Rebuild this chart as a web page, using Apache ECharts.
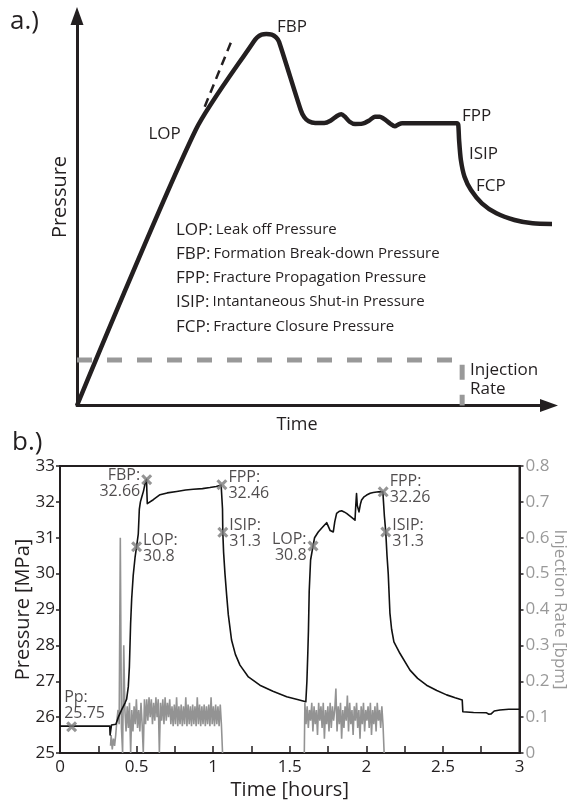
<!DOCTYPE html>
<html>
<head>
<meta charset="utf-8">
<script src="https://cdn.jsdelivr.net/npm/echarts@6/dist/echarts.min.js"></script>
<style>html,body{margin:0;padding:0;background:#fff}#c{width:568px;height:803px}</style>
</head>
<body>
<div id="c"></div>
<script>
// ---------- Panel a (schematic, arbitrary units 0-100) ----------
const schemX = [0,25.14,37.42,38.18,39.11,40.11,41.26,42.18,42.80,47.40,48.16,49.09,50.47,52.39,53.69,55.08,56.0,56.76,57.76,58.92,60.45,61.83,63.14,64.13,65.21,66.44,67.35,68.13,68.90,80.55,80.78,80.95,81.33,82.10,83.47,85.78,88.86,92.69,96.53,101.5];
const schemY = [0,70.73,93.41,94.52,95.21,95.38,95.21,94.52,93.41,75.87,73.99,72.96,72.53,72.53,73.12,74.33,74.76,74.15,72.86,72.27,72.36,73.12,74.15,74.15,73.47,72.27,71.68,72.19,72.45,72.45,72.02,68.16,63.03,58.74,55.33,51.91,49.34,47.63,46.78,46.6];
const tangentX = [27.06, 32.82];
const tangentY = [76.72, 93.84];
const rateSchemX = [0, 81.6, 81.6];
const rateSchemY = [11.68, 11.68, 0];
const legendKeys = ['LOP:','FBP:','FPP:','ISIP:','FCP:'];
const legendDescs = ['Leak off Pressure','Formation Break-down Pressure','Fracture Propagation Pressure','Intantaneous Shut-in Pressure','Fracture Closure Pressure'];

// ---------- Panel b ----------
const pTime = [0,0.325,0.327,0.333,0.336,0.365,0.374,0.381,0.402,0.425,0.435,0.446,0.453,0.461,0.468,0.478,0.490,0.500,0.511,0.518,0.525,0.533,0.545,0.555,0.565,0.567,0.570,0.580,0.609,0.653,0.700,0.762,0.820,0.870,0.930,0.979,1.020,1.052,1.058,1.061,1.063,1.068,1.077,1.088,1.099,1.120,1.145,1.175,1.230,1.305,1.390,1.480,1.550,1.605,1.608,1.612,1.618,1.622,1.627,1.636,1.652,1.662,1.686,1.715,1.741,1.752,1.764,1.784,1.794,1.806,1.825,1.839,1.855,1.871,1.900,1.926,1.931,1.936,1.941,1.952,1.962,1.969,1.985,2.002,2.025,2.045,2.080,2.108,2.112,2.118,2.127,2.135,2.143,2.154,2.165,2.180,2.219,2.285,2.335,2.393,2.460,2.524,2.580,2.626,2.630,2.700,2.785,2.800,2.815,2.835,2.872,2.930,3.000];
const pMPa = [25.75,25.75,25.5,25.5,25.78,25.8,25.82,26.0,26.2,26.4,26.5,26.85,27.4,28.6,29.3,29.95,30.45,30.75,31.1,31.8,32.0,32.12,32.3,32.5,32.63,32.3,31.95,31.98,32.06,32.2,32.25,32.29,32.33,32.35,32.37,32.4,32.43,32.47,32.47,31.8,31.15,30.6,30.0,29.4,28.85,28.15,27.75,27.45,27.12,26.89,26.72,26.57,26.49,26.43,26.43,27.0,27.8,28.4,29.5,30.38,30.77,31.0,31.16,31.3,31.42,31.38,31.2,31.16,31.45,31.68,31.74,31.75,31.72,31.68,31.58,31.49,31.9,32.23,31.9,31.72,31.95,32.05,32.14,32.19,32.24,32.26,32.28,32.28,32.0,31.6,31.15,30.5,30.0,28.9,28.45,28.1,27.78,27.31,27.08,26.89,26.74,26.62,26.54,26.48,26.15,26.13,26.12,26.08,26.09,26.17,26.2,26.22,26.22];

// injection rate, logged samples (bpm)
const rate1Start = 0.33, rate2Start = 1.595, rateStep = 0.0075;
const rate1 = [0.02,0.05,0.01,0.04,0.02,0.05,0.09,0.12,0.08,0.60,0.07,0.0,0.30,
0.12,0.06,0.13,0.07,0.14,0.0,0.12,0.06,0.13,0.08,0.15,0.07,0.12,0.06,0.14,0.08,
0.0,0.15,0.08,
0.15,0.09,0.155,0.10,0.15,0.08,0.14,0.09,0.155,0.10,0.15,0.0,0.14,0.09,0.15,0.08,0.155,0.09,0.14,0.10,0.15,
0.08,0.13,0.075,0.135,0.08,0.155,0.075,0.13,0.08,0.135,
0.075,0.13,0.08,0.155,0.075,0.135,0.08,0.13,0.075,0.135,
0.08,0.13,0.075,0.155,0.08,0.135,0.075,0.13,0.08,0.135,
0.075,0.13,0.08,0.135,0.075,0.155,0.08,0.13,0.075,0.135,
0.08,0.13,0.075,0.135,0.08,0.0];
const rate2 = [0.0,0.14,0.08,0.13,0.07,0.12,0.09,0.14,0.06,0.13,
0.08,0.12,0.05,0.14,0.09,0.13,0.07,0.14,0.04,0.12,
0.08,0.13,0.06,0.14,0.07,0.13,0.09,0.12,0.18,0.06,
0.13,0.08,0.14,0.04,0.12,0.07,0.13,0.09,0.16,0.06,
0.14,0.08,0.12,0.05,0.13,0.09,0.14,0.07,0.12,0.04,
0.13,0.08,0.14,0.06,0.12,0.09,0.13,0.07,0.14,0.05,
0.12,0.08,0.13,0.06,0.14,0.09,0.12,0.07,0.13,0.08,0.0];

const markerNames = ['Pp','LOP','FBP','FPP','ISIP','LOP','FPP','ISIP'];
const markerText  = ['25.75','30.8','32.66','32.46','31.3','30.8','32.26','31.3'];
const markerT = [0.076, 0.500, 0.566, 1.057, 1.063, 1.652, 2.110, 2.127];
const markerP = [25.73, 30.75, 32.62, 32.48, 31.15, 30.77, 32.28, 31.16];

const xTicksB = {min:0, max:3, interval:0.25};
const yTicksB = {min:25, max:33, interval:1};
const rTicksB = {min:0, max:0.8, interval:0.1};

// ---------- build ----------
const FONT = '"Open Sans", "Noto Sans", sans-serif';
const INK = '#231f20';
const GRAY = '#999999';

const zip = (a, b) => a.map((v, i) => [v, b[i]]);
const rateSeries = (start, vals) => vals.map((v, i) => [start + i * rateStep, v]);

const labelStyle = [
  {position:'right', offset:[-14,-21]},
  {position:'right', offset:[0,2]},
  {position:'left', offset:[0,4]},
  {position:'right', offset:[0,1]},
  {position:'right', offset:[0,1]},
  {position:'left', offset:[0,1]},
  {position:'right', offset:[0,-2]},
  {position:'right', offset:[0,1]}
];

const xShape = 'path://M0,2 L2,0 L5,3 L8,0 L10,2 L7,5 L10,8 L8,10 L5,7 L2,10 L0,8 L3,5 Z';

const markerData = markerT.map((t, i) => ({
  value: [t, markerP[i]],
  label: Object.assign({}, labelStyle[i])
}));

const graphics = [
  {type:'text', x:10, y:22, style:{text:'a.)', font:'26px ' + FONT, fill:INK, verticalAlign:'middle'}},
  {type:'text', x:12, y:443, style:{text:'b.)', font:'26px ' + FONT, fill:INK, verticalAlign:'middle'}},
  {type:'text', x:60, y:197, rotation:Math.PI/2, style:{text:'Pressure', font:'20px ' + FONT, fill:INK, align:'center', verticalAlign:'middle'}},
  {type:'text', x:297, y:425, style:{text:'Time', font:'18px ' + FONT, fill:INK, align:'center', verticalAlign:'middle'}},
  {type:'text', x:148.5, y:134, style:{text:'LOP', font:'17px ' + FONT, fill:INK, verticalAlign:'middle'}},
  {type:'text', x:277, y:27.5, style:{text:'FBP', font:'17px ' + FONT, fill:INK, verticalAlign:'middle'}},
  {type:'text', x:462, y:116, style:{text:'FPP', font:'17px ' + FONT, fill:INK, verticalAlign:'middle'}},
  {type:'text', x:469, y:154, style:{text:'ISIP', font:'17px ' + FONT, fill:INK, verticalAlign:'middle'}},
  {type:'text', x:476, y:186, style:{text:'FCP', font:'17px ' + FONT, fill:INK, verticalAlign:'middle'}},
  {type:'text', x:470, y:370, style:{text:'Injection', font:'17px ' + FONT, fill:INK, verticalAlign:'middle'}},
  {type:'text', x:470, y:389, style:{text:'Rate', font:'17px ' + FONT, fill:INK, verticalAlign:'middle'}}
];
const legendY = [230, 254, 278, 302, 327];
legendKeys.forEach((k, i) => {
  graphics.push({type:'text', x:176, y:legendY[i], style:{
    text:'{k|' + k + '}{d|' + legendDescs[i] + '}',
    verticalAlign:'middle',
    rich:{k:{fontSize:17, fontFamily:FONT, fill:INK, color:INK, padding:[0,3,0,0]}, d:{fontSize:15, fontFamily:FONT, fill:INK, color:INK}}
  }});
});

const chart = echarts.init(document.getElementById('c'), null, {renderer:'canvas'});
chart.setOption({
  animation:false,
  backgroundColor:'#fff',
  textStyle:{fontFamily:FONT, color:INK},
  grid:[
    {left:77, top:16, width:472, height:389.5, outerBoundsMode:'none', containLabel:false},
    {left:60, top:466, width:459.5, height:287, outerBoundsMode:'none', containLabel:false,
     show:true, borderColor:INK, borderWidth:2, backgroundColor:'transparent'}
  ],
  xAxis:[
    {gridIndex:0, type:'value', min:0, max:100, splitLine:{show:false}, axisTick:{show:false}, axisLabel:{show:false},
     axisLine:{show:true, onZero:false, symbol:['none','triangle'], symbolSize:[13,18], lineStyle:{color:INK, width:3}}},
    {gridIndex:1, type:'value', min:xTicksB.min, max:xTicksB.max, interval:xTicksB.interval, splitLine:{show:false},
     axisLine:{show:true, onZero:false, lineStyle:{color:INK, width:2}},
     axisTick:{show:true, inside:true, length:7, lineStyle:{color:INK, width:1.5}},
     axisLabel:{fontSize:17, color:INK, margin:6, fontFamily:FONT,
       formatter:v => Math.abs(v*2 - Math.round(v*2)) < 1e-6 ? String(+v.toFixed(2)) : ''},
     name:'Time [hours]', nameLocation:'middle', nameGap:27, nameTextStyle:{fontSize:20, color:INK, fontFamily:FONT}}
  ],
  yAxis:[
    {gridIndex:0, type:'value', min:0, max:100, splitLine:{show:false}, axisTick:{show:false}, axisLabel:{show:false},
     axisLine:{show:true, onZero:false, symbol:['none','triangle'], symbolSize:[13,18], lineStyle:{color:INK, width:3}}},
    {gridIndex:1, type:'value', min:yTicksB.min, max:yTicksB.max, interval:yTicksB.interval, position:'left', splitLine:{show:false},
     axisLine:{show:true, onZero:false, lineStyle:{color:INK, width:2}},
     axisTick:{show:true, inside:false, length:4, lineStyle:{color:INK, width:1.5}},
     axisLabel:{fontSize:17, color:INK, margin:5, fontFamily:FONT},
     name:'Pressure [MPa]', nameLocation:'middle', nameGap:27, nameMoveOverlap:false, nameRotate:90, nameTextStyle:{fontSize:20, color:INK, fontFamily:FONT}},
    {gridIndex:1, type:'value', min:rTicksB.min, max:rTicksB.max, interval:rTicksB.interval, position:'right', splitLine:{show:false},
     axisLine:{show:true, onZero:false, lineStyle:{color:INK, width:2}},
     axisTick:{show:true, inside:false, length:4, lineStyle:{color:INK, width:1.5}},
     axisLabel:{fontSize:17, color:GRAY, margin:6, fontFamily:FONT},
     name:'Injection Rate [bpm]', nameLocation:'middle', nameGap:32, nameMoveOverlap:false, nameRotate:-90, nameTextStyle:{fontSize:17, color:GRAY, fontFamily:FONT}}
  ],
  series:[
    {type:'line', xAxisIndex:0, yAxisIndex:0, data:zip(rateSchemX, rateSchemY), symbol:'none', clip:false,
     lineStyle:{color:GRAY, width:5, type:[15,15], cap:'butt'}},
    {type:'line', xAxisIndex:0, yAxisIndex:0, data:zip(tangentX, tangentY), symbol:'none', clip:false,
     lineStyle:{color:INK, width:2.5, type:[9,6]}},
    {type:'line', xAxisIndex:0, yAxisIndex:0, data:zip(schemX, schemY), symbol:'none', clip:false, smooth:0.25,
     lineStyle:{color:INK, width:4.5, join:'round', cap:'butt'}},
    {type:'line', xAxisIndex:1, yAxisIndex:2, data:rateSeries(rate1Start, rate1), symbol:'none', step:'middle',
     lineStyle:{color:'#939393', width:1.6}},
    {type:'line', xAxisIndex:1, yAxisIndex:2, data:rateSeries(rate2Start, rate2), symbol:'none', step:'middle',
     lineStyle:{color:'#939393', width:1.6}},
    {type:'line', xAxisIndex:1, yAxisIndex:1, data:zip(pTime, pMPa), symbol:'none',
     lineStyle:{color:'#111', width:1.6, join:'round'}},
    {type:'scatter', xAxisIndex:1, yAxisIndex:1, data:markerData, symbol:xShape, symbolSize:11,
     itemStyle:{color:'#7a7a7a'}, z:5,
     label:{show:true, distance:1, fontSize:16, lineHeight:16, color:INK, fontFamily:FONT,
       formatter:p => markerNames[p.dataIndex] + ':\n' + markerText[p.dataIndex]}}
  ],
  graphic:graphics
});
</script>
</body>
</html>
